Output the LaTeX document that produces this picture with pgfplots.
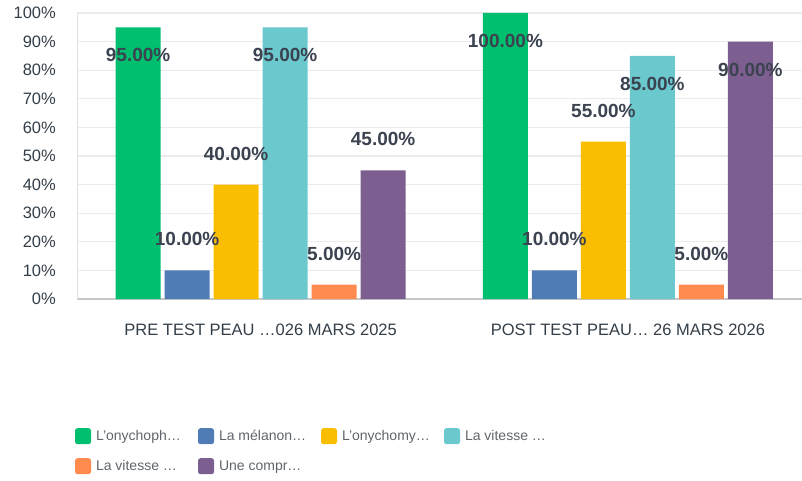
\documentclass[border=0pt]{standalone}
\usepackage{pgfplots}
\pgfplotsset{compat=1.18}
\usepackage{fontspec}
\setmainfont{Liberation Sans}
\definecolor{cgreen}{HTML}{00BF6F}
\definecolor{cblue}{HTML}{507CB6}
\definecolor{cyellow}{HTML}{F9BE00}
\definecolor{cteal}{HTML}{6BC8CD}
\definecolor{corange}{HTML}{FF8B4F}
\definecolor{cpurple}{HTML}{7D5E90}
\definecolor{cdark}{HTML}{333E48}
\definecolor{clab}{HTML}{3B4250}
\definecolor{clegend}{HTML}{5F656C}
\pgfplotsset{mylegend/.style={legend image code/.code={\fill[##1, draw=none, rounded corners=2.5pt] (0pt,-8pt) rectangle (16pt,8pt);}}}
\begin{document}
\begin{tikzpicture}
\useasboundingbox (0,0) rectangle (802pt,480pt);
\begin{axis}[
 at={(77pt,181pt)}, anchor=south west,
 scale only axis, width=725pt, height=286pt,
 xmin=-0.5, xmax=1.474, ymin=0, ymax=100,
 ybar=4pt, bar width=45pt,
 xtick={0,1},
 xticklabels={PRE TEST PEAU …026 MARS 2025, POST TEST PEAU… 26 MARS 2026},
 ytick={0,10,...,100},
 yticklabel={\pgfmathprintnumber{\tick}\%},
 /pgf/number format/assume math mode=true,
 axis x line*=bottom, axis y line*=left,
 axis line style={-},
 x axis line style={draw=black!22, line width=1.5pt},
 y axis line style={draw=black!12, line width=1pt},
 tick style={draw=none},
 ymajorgrids, grid style={draw=black!8, line width=1.2pt},
 yticklabel style={font=\fontsize{16.5}{19}\selectfont, text=cdark, inner sep=0pt, anchor=east, xshift=-21pt},
 xticklabel style={font=\fontsize{16.5}{19}\selectfont, text=cdark, inner sep=0pt, anchor=north, yshift=-21pt},
 nodes near coords={\pgfmathprintnumber[fixed,fixed zerofill,precision=2]{\pgfplotspointmeta}\%},
 visualization depends on={rawy \as \yval},
 every node near coord/.append style={anchor=center, font=\bfseries\fontsize{19}{22}\selectfont, text=clab, inner sep=0pt, yshift={ifthenelse(\yval>80,-28,31)}},
 legend columns=4,
 legend cell align=left,
 legend style={at={(axis description cs:-0.003,-0.451)}, anchor=north west, draw=none, fill=none, inner sep=0pt, column sep=5pt, row sep=14pt, nodes={inner sep=0pt, text=clegend, font=\fontsize{14}{16}\selectfont}},
]
\addplot[fill=cgreen, draw=none, mylegend] coordinates {(0,95) (1,100)};
\addplot[fill=cblue, draw=none, mylegend] coordinates {(0,10) (1,10)};
\addplot[fill=cyellow, draw=none, mylegend] coordinates {(0,40) (1,55)};
\addplot[fill=cteal, draw=none, mylegend] coordinates {(0,95) (1,85)};
\addplot[fill=corange, draw=none, mylegend] coordinates {(0,5) (1,5)};
\addplot[fill=cpurple, draw=none, mylegend] coordinates {(0,45) (1,90)};
\legend{\makebox[97pt][l]{L’onychoph…},\makebox[97pt][l]{La mélanon…},\makebox[97pt][l]{L’onychomy…},\makebox[97pt][l]{La vitesse …},\makebox[97pt][l]{La vitesse …},\makebox[97pt][l]{Une compr…}}
\end{axis}
\end{tikzpicture}
\end{document}
